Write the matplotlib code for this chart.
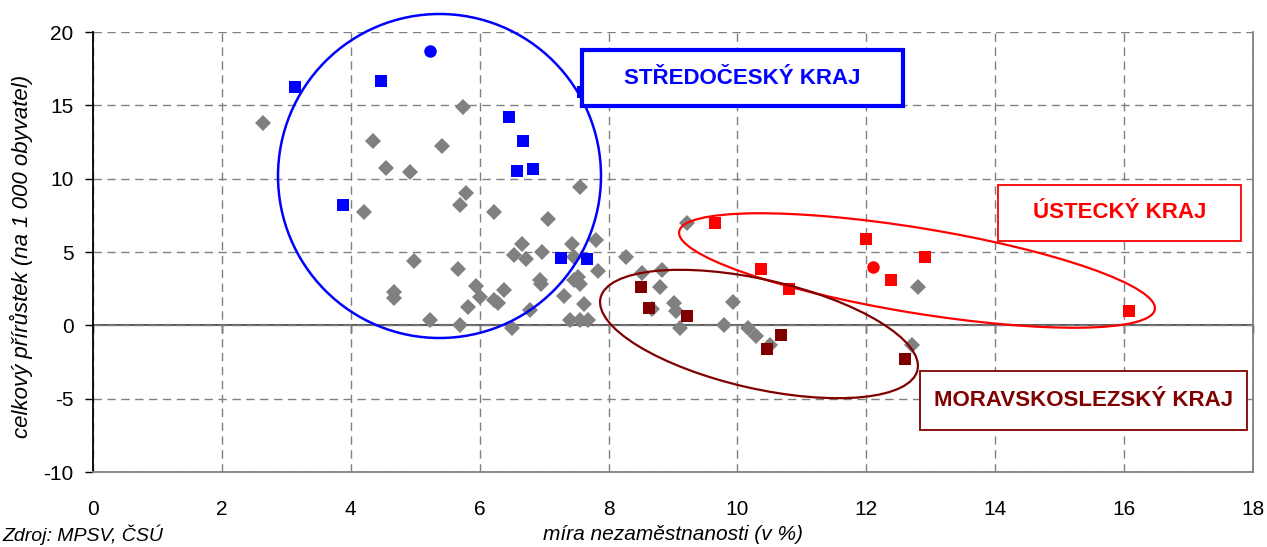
import matplotlib.pyplot as plt
from matplotlib.patches import Ellipse, Rectangle
from matplotlib.transforms import IdentityTransform
import numpy as np

plt.rcParams['font.family'] = ['Liberation Sans', 'DejaVu Sans']
plt.rcParams['axes.unicode_minus'] = False

# Data
# ostatní okresy (gray diamonds)
other_x = [2.64, 4.35, 4.55, 4.2, 5.74, 5.42, 4.92, 5.79, 5.7, 6.22,
           4.98, 5.66, 4.67, 4.67, 5.94, 6.0, 5.82, 5.23, 5.7, 7.56,
           7.06, 6.66, 6.53, 6.72, 6.97, 7.43, 7.8, 7.46, 8.27, 7.84,
           6.94, 6.95, 7.53, 7.56, 7.47, 6.38, 6.22, 6.28, 7.31, 7.62,
           6.78, 7.4, 7.56, 7.68, 6.5, 8.52, 8.83, 8.8, 8.67, 9.02,
           9.05, 9.11, 9.22, 9.93, 9.79, 10.16, 10.29, 10.5, 12.8, 12.71]
other_y = [13.8, 12.6, 10.7, 7.7, 14.9, 12.2, 10.45, 9.03, 8.2, 7.7,
           4.4, 3.85, 2.3, 1.85, 2.7, 1.94, 1.26, 0.35, 0.05, 9.45,
           7.27, 5.56, 4.8, 4.54, 5.0, 5.56, 5.83, 4.67, 4.67, 3.7,
           3.1, 2.85, 3.3, 2.8, 3.1, 2.4, 1.7, 1.55, 2.0, 1.46,
           1.06, 0.37, 0.37, 0.37, -0.2, 3.58, 3.78, 2.62, 1.12, 1.53,
           0.99, -0.2, 6.98, 1.6, 0.05, -0.15, -0.72, -1.33, 2.62, -1.33]

# Středočeský kraj
stc_x = [3.13, 4.47, 6.46, 6.67, 6.58, 6.83, 3.88, 7.26, 7.67, 7.6]
stc_y = [16.25, 16.67, 14.2, 12.57, 10.5, 10.66, 8.2, 4.6, 4.53, 15.9]
praha_x = [5.23]
praha_y = [18.71]

# Ústecký kraj
ust_x = [9.65, 12.0, 10.37, 10.8, 12.38, 12.91, 16.08]
ust_y = [6.98, 5.9, 3.85, 2.5, 3.1, 4.67, 0.99]
ust_c_x = [12.1]
ust_c_y = [3.99]

# Moravskoslezský kraj
msk_x = [8.5, 8.63, 9.22, 10.68, 10.46, 12.6]
msk_y = [2.62, 1.19, 0.65, -0.65, -1.6, -2.28]

xticks = [0, 2, 4, 6, 8, 10, 12, 14, 16, 18]
yticks = [-10, -5, 0, 5, 10, 15, 20]

BLUE = '#0000FF'
RED = '#FF0000'
DRED = '#800000'
GRAY = '#808080'

W, H = 1267, 547
fig = plt.figure(figsize=(W / 100, H / 100), dpi=100)
ax = fig.add_axes([93 / W, 75 / H, 1160 / W, 440 / H])

ax.set_xlim(0, 18)
ax.set_ylim(-10, 20)
ax.set_xticks(xticks)
ax.set_yticks(yticks)
ax.grid(True, color=GRAY, linestyle=(0, (6, 4)), linewidth=1)
ax.set_axisbelow(True)

ax.tick_params(axis='x', length=0, pad=20, labelsize=15)
ax.tick_params(axis='y', direction='out', length=6, width=1, labelsize=15, pad=8)
ax.spines['top'].set_visible(False)
ax.spines['left'].set_color('black')
ax.spines['left'].set_linewidth(1.3)
ax.spines['bottom'].set_color(GRAY)
ax.spines['bottom'].set_linewidth(1.3)
ax.spines['right'].set_color(GRAY)
ax.spines['right'].set_linewidth(1.3)

# x axis line at y = 0 with tick marks
sec = ax.secondary_xaxis(1 / 3)
sec.set_xticks(xticks)
sec.tick_params(axis='x', direction='out', length=6, width=1, labelbottom=False,
                color='black')
sec.spines['bottom'].set_color('#606060')
sec.spines['bottom'].set_linewidth(1.5)

ax.plot(other_x, other_y, 'D', color=GRAY, markersize=7.8, markeredgewidth=0, zorder=3)
ax.plot(stc_x, stc_y, 's', color=BLUE, markersize=9, markeredgewidth=0, zorder=4)
ax.plot(praha_x, praha_y, 'o', color=BLUE, markersize=9, markeredgewidth=0, zorder=4)
ax.plot(ust_x, ust_y, 's', color=RED, markersize=9, markeredgewidth=0, zorder=4)
ax.plot(ust_c_x, ust_c_y, 'o', color=RED, markersize=9, markeredgewidth=0, zorder=4)
ax.plot(msk_x, msk_y, 's', color=DRED, markersize=9, markeredgewidth=0, zorder=4)

# ellipses and boxes placed in pixel space (y measured from the top)
pix = IdentityTransform()
fig.add_artist(Ellipse((439.5, H - 176), 323, 324, fill=False, edgecolor=BLUE,
                       linewidth=1.8, transform=pix, clip_on=False, zorder=5))
fig.add_artist(Ellipse((917, H - 270.5), 482, 85, angle=-9.3, fill=False, edgecolor=RED,
                       linewidth=1.6, transform=pix, clip_on=False, zorder=5))
fig.add_artist(Ellipse((759, H - 334), 325, 109, angle=-12.8, fill=False, edgecolor=DRED,
                       linewidth=1.6, transform=pix, clip_on=False, zorder=5))

boxes = [
    ('STŘEDOČESKÝ KRAJ', BLUE, 582, 50, 903, 106, 3.0),
    ('ÚSTECKÝ KRAJ', RED, 998, 185, 1241, 241, 1.3),
    ('MORAVSKOSLEZSKÝ KRAJ', DRED, 920, 371, 1247, 430, 1.3),
]
for label, col, x0, y0, x1, y1, lw in boxes:
    fig.add_artist(Rectangle((x0, H - y1), x1 - x0, y1 - y0, facecolor='white',
                             edgecolor=col, linewidth=lw, transform=pix, zorder=6))
    fig.text((x0 + x1) / 2 / W, 1 - (y0 + y1) / 2 / H, label, color=col, fontsize=16,
             fontweight='bold', ha='center', va='center', zorder=7)

ax.set_xlabel('míra nezaměstnanosti (v %)', fontsize=15, style='italic')
ax.xaxis.set_label_coords(0.5, -0.12)
ax.set_ylabel('celkový přírůstek (na 1 000 obyvatel)', fontsize=16, style='italic')
ax.yaxis.set_label_coords(-0.052, 0.49)
fig.text(0.002, 0.003, 'Zdroj: MPSV, ČSÚ', fontsize=14, style='italic', ha='left',
         va='bottom')

fig.savefig('out.png', dpi=100)
